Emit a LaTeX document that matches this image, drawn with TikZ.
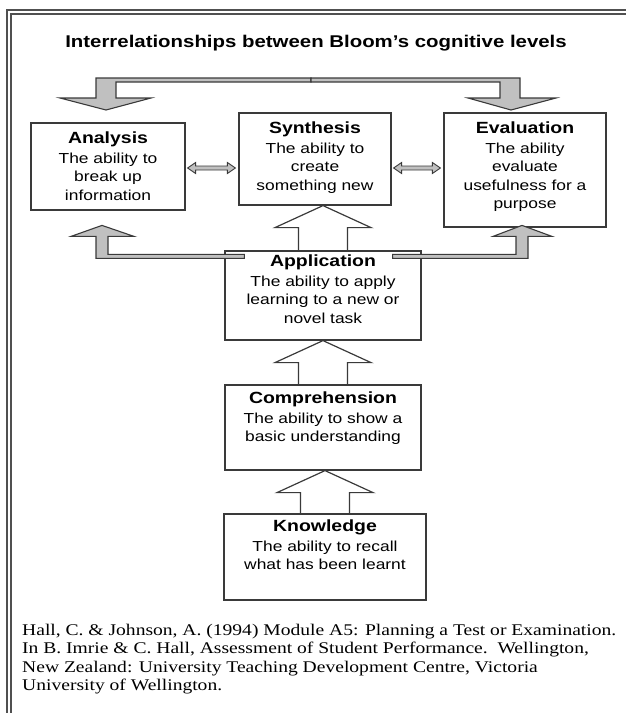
\documentclass[tikz,border=0pt]{standalone}
\usepackage{fontspec}
\usepackage{xcolor}
\usepackage{tikz}
\usetikzlibrary{positioning,calc}
\newfontfamily\boxfont{Liberation Sans}[FakeStretch=1.2]
\newfontfamily\reffont{Liberation Serif}[FakeStretch=1.2]
\definecolor{boxline}{HTML}{3A3A3A}
\definecolor{arrowfill}{HTML}{C0C0C0}
\definecolor{framegray}{HTML}{505050}

\begin{document}
\begin{tikzpicture}[
  x=1pt, y=-1pt,
  levelbox/.style={draw=boxline,line width=1.2pt,inner sep=0pt},
  lbl/.style={inner sep=0pt,align=center,font=\boxfont\fontsize{14.5}{18.5}\selectfont},
  hollow/.style={draw=boxline,line width=1.2pt},
  greyarrow/.style={draw=boxline,line width=1.1pt,fill=arrowfill},
  pageframe/.style={draw=framegray,line width=1.3pt}
]
\useasboundingbox (0,0) rectangle (626,713);
\draw[pageframe] (7,713) -- (7,10) -- (626,10);
\draw[pageframe] (11,713) -- (11,14) -- (626,14);

\node[font=\boxfont\bfseries\fontsize{17}{20}\selectfont,anchor=base] (title) at (316,47)
  {Interrelationships between Bloom’s cognitive levels};

% the six levels
\node[levelbox,minimum width=154pt,minimum height=87pt] (ana) at (108,166.5) {};
\node[levelbox,minimum width=152pt,minimum height=92pt] (syn) at (315,159) {};
\node[levelbox,minimum width=162pt,minimum height=114pt] (eva) at (525,170) {};
\node[levelbox,minimum width=196pt,minimum height=89pt] (app) at (323,295.5) {};
\node[levelbox,minimum width=196pt,minimum height=85pt] (com) at (323,427.5) {};
\node[levelbox,minimum width=202pt,minimum height=86pt] (kno) at (325,557) {};

\node[lbl,below=9pt of ana.north] (anat)
  {{\bfseries\fontsize{16.2}{18.5}\selectfont Analysis}\\[1.5pt]The ability to\\break up\\information};
\node[lbl,below=9pt of syn.north] (synt)
  {{\bfseries\fontsize{16.2}{18.5}\selectfont Synthesis}\\[1.5pt]The ability to\\create\\something new};
\node[lbl,below=9pt of eva.north] (evat)
  {{\bfseries\fontsize{16.2}{18.5}\selectfont Evaluation}\\[1.5pt]The ability\\evaluate\\usefulness for a\\purpose};
\node[lbl,below=4pt of app.north] (appt)
  {{\bfseries\fontsize{16.2}{18.5}\selectfont Application}\\[1.5pt]The ability to apply\\learning to a new or\\novel task};
\node[lbl,below=7pt of com.north] (comt)
  {{\bfseries\fontsize{16.2}{18.5}\selectfont Comprehension}\\[1.5pt]The ability to show a\\basic understanding};
\node[lbl,below=6pt of kno.north] (knot)
  {{\bfseries\fontsize{16.2}{18.5}\selectfont Knowledge}\\[1.5pt]The ability to recall\\what has been learnt};

% big open arrows up the middle
\foreach \s/\t in {app/syn,com/app,kno/com}
  \draw[hollow] let \p1=(\s.north), \p2=(\t.south) in
    (\x1-24.5pt,\y1) -- (\x1-24.5pt,\y2-22pt) -- (\x1-48pt,\y2-22pt) -- (\x1,\y2)
    -- (\x1+48pt,\y2-22pt) -- (\x1+24.5pt,\y2-22pt) -- (\x1+24.5pt,\y1);

% application feeds analysis and evaluation
\draw[greyarrow] let \p1=(app.north west), \p2=(ana.south) in
  (\x1+20pt,\y1-4pt) -- (\x2,\y1-4pt) -- (\x2,\y1+14pt) -- (\x2+26pt,\y1+14pt)
  -- (\x2-6pt,\y1+25pt) -- (\x2-37pt,\y1+14pt) -- (\x2-12pt,\y1+14pt)
  -- (\x2-12pt,\y1-8pt) -- (\x1+20pt,\y1-8pt) -- cycle;
\draw[greyarrow] let \p1=(app.north east), \p2=(eva.south) in
  (\x1-29pt,\y1-4pt) -- (\x2-9pt,\y1-4pt) -- (\x2-9pt,\y1+14pt) -- (\x2-32pt,\y1+14pt)
  -- (\x2-3pt,\y1+25pt) -- (\x2+27pt,\y1+14pt) -- (\x2+3pt,\y1+14pt)
  -- (\x2+3pt,\y1-8pt) -- (\x1-29pt,\y1-8pt) -- cycle;

% top bar back down to analysis and evaluation
\coordinate (mid) at (311,78);
\draw[greyarrow] let \p1=(mid), \p2=(ana.north) in
  (\x1,\y1) -- (\x2-12pt,\y1) -- (\x2-12pt,\y1-20pt) -- (\x2-48pt,\y1-20pt)
  -- (\x2-2pt,\y1-32pt) -- (\x2+43pt,\y1-20pt) -- (\x2+8pt,\y1-20pt)
  -- (\x2+8pt,\y1-4pt) -- (\x1,\y1-4pt) -- cycle;
\draw[greyarrow] let \p1=(mid), \p2=(eva.north) in
  (\x1,\y1) -- (\x2-5pt,\y1) -- (\x2-5pt,\y1-20pt) -- (\x2+31pt,\y1-20pt)
  -- (\x2-14pt,\y1-32pt) -- (\x2-57pt,\y1-20pt) -- (\x2-25pt,\y1-20pt)
  -- (\x2-25pt,\y1-4pt) -- (\x1,\y1-4pt) -- cycle;

% small two-way arrows along the top row
\foreach \a/\b in {ana/syn,syn/eva}
  \draw[greyarrow,line width=0.9pt] let \p1=(\a.east), \p2=(\b.west), \p3=(ana.east) in
    (\x1+2pt,\y3-1.5pt) -- (\x1+10pt,\y3+4pt) -- (\x1+10pt,\y3+0.5pt) -- (\x2-11pt,\y3+0.5pt)
    -- (\x2-11pt,\y3+4pt) -- (\x2-3pt,\y3-1.5pt) -- (\x2-11pt,\y3-7pt) -- (\x2-11pt,\y3-3.5pt)
    -- (\x1+10pt,\y3-3.5pt) -- (\x1+10pt,\y3-7pt) -- cycle;

\node[font=\reffont\fontsize{16.3}{18.3}\selectfont,align=left,anchor=north west,inner sep=0pt] (ref) at (22,624)
  {Hall, C. \& Johnson, A. (1994) Module A5: Planning a Test or Examination.\\
   In B. Imrie \& C. Hall, Assessment of Student Performance.\ \ Wellington,\\
   New Zealand: University Teaching Development Centre, Victoria\\
   University of Wellington.};
\end{tikzpicture}
\end{document}
